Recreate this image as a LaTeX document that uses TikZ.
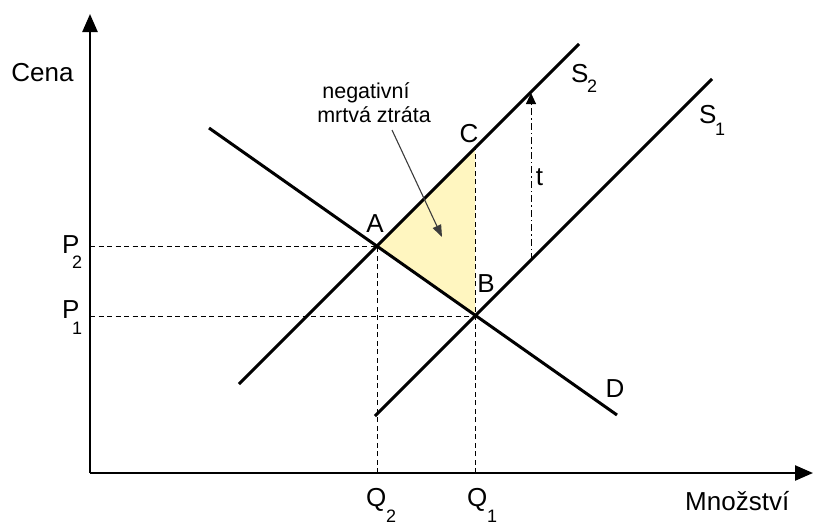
\documentclass[tikz,border=0pt]{standalone}
\usepackage{fontspec}
\setmainfont{Liberation Sans}
\usetikzlibrary{arrows.meta}
\definecolor{dwlfill}{RGB}{255,246,192}
\definecolor{notegray}{RGB}{60,60,60}
\begin{document}
\begin{tikzpicture}[x=1pt,y=-1pt,
  curve/.style={line width=3pt},
  axis/.style={line width=2.4pt,-{Triangle[length=18pt,width=15pt]}},
  guide/.style={line width=0.9pt,dash pattern=on 5pt off 3.5pt},
  tline/.style={line width=0.9pt,dash pattern=on 7pt off 3pt on 1.5pt off 3pt,-{Triangle[length=11pt,width=10pt]}},
  notearrow/.style={line width=1.1pt,notegray,-{Triangle[length=12pt,width=9pt]}},
  lbl/.style={inner sep=0pt,anchor=base west,font=\fontsize{26}{30}\selectfont},
  sublbl/.style={inner sep=0pt,anchor=base west,font=\fontsize{18}{20}\selectfont},
  note/.style={inner sep=0pt,anchor=base,font=\fontsize{21.5}{24}\selectfont}]
\useasboundingbox (0,0) rectangle (814,525);
% key points
\coordinate (O) at (90,473);
\coordinate (Ytop) at (90,14);
\coordinate (Xend) at (813,473);
\coordinate (A) at (377,246);
\coordinate (B) at (475,316);
\coordinate (C) at (475,148);
\coordinate (S2a) at (239,384);
\coordinate (S2b) at (579,44);
\coordinate (S1a) at (375,416);
\coordinate (S1b) at (712,79);
\coordinate (Da) at (209,128);
\coordinate (Db) at (617,415);
\coordinate (P2) at (O|-A);
\coordinate (P1) at (O|-B);
\coordinate (Q2) at (A|-O);
\coordinate (Q1) at (C|-O);
\coordinate (t0) at (531,260);
\coordinate (t1) at (531,93);
\coordinate (n0) at (392,130);
\coordinate (n1) at (442,237);
% deadweight triangle
\fill[dwlfill] (A) -- (C) -- (B) -- cycle;
% guides
\draw[guide] (P2) -- (A);
\draw[guide] (P1) -- (B);
\draw[guide] (Q2) -- (A);
\draw[guide] (Q1) -- (C);
% axes
\draw[axis] (O) -- (Ytop);
\draw[axis] (O) -- (Xend);
% curves
\draw[curve] (S2a) -- (S2b);
\draw[curve] (S1a) -- (S1b);
\draw[curve] (Da) -- (Db);
% tax arrow
\draw[tline] (t0) -- (t1);
% note arrow
\draw[notearrow] (n0) -- (n1);
% labels
\node[inner sep=0pt,anchor=base,font=\fontsize{26}{30}\selectfont] (cena) at (42.5,81) {Cena};
\node[inner sep=0pt,anchor=base west,font=\fontsize{26}{30}\selectfont] (mnoz) at (685,510) {Množství};
\node[lbl] (p2) at (62,253) {P};
\node[sublbl] (p2s) at (72,268) {2};
\node[lbl] (p1) at (62,318) {P};
\node[sublbl] (p1s) at (72,334) {1};
\node[lbl] (q2) at (366,506) {Q};
\node[sublbl] (q2s) at (386,522) {2};
\node[lbl] (q1) at (467,506) {Q};
\node[sublbl] (q1s) at (487,522) {1};
\node[lbl,anchor=base] (la) at (375,232) {A};
\node[lbl,anchor=base] (lb) at (486,292) {B};
\node[lbl,anchor=base] (lc) at (469,142) {C};
\node[lbl] (s2) at (571,82) {S};
\node[sublbl] (s2s) at (587,92) {2};
\node[lbl] (s1) at (699,123) {S};
\node[sublbl] (s1s) at (715,135) {1};
\node[lbl,anchor=base] (lt) at (539.5,185) {t};
\node[lbl,anchor=base] (ld) at (615,397) {D};
\node[note] (neg1) at (366,98) {negativní};
\node[note] (neg2) at (374,122) {mrtvá ztráta};
\end{tikzpicture}
\end{document}
